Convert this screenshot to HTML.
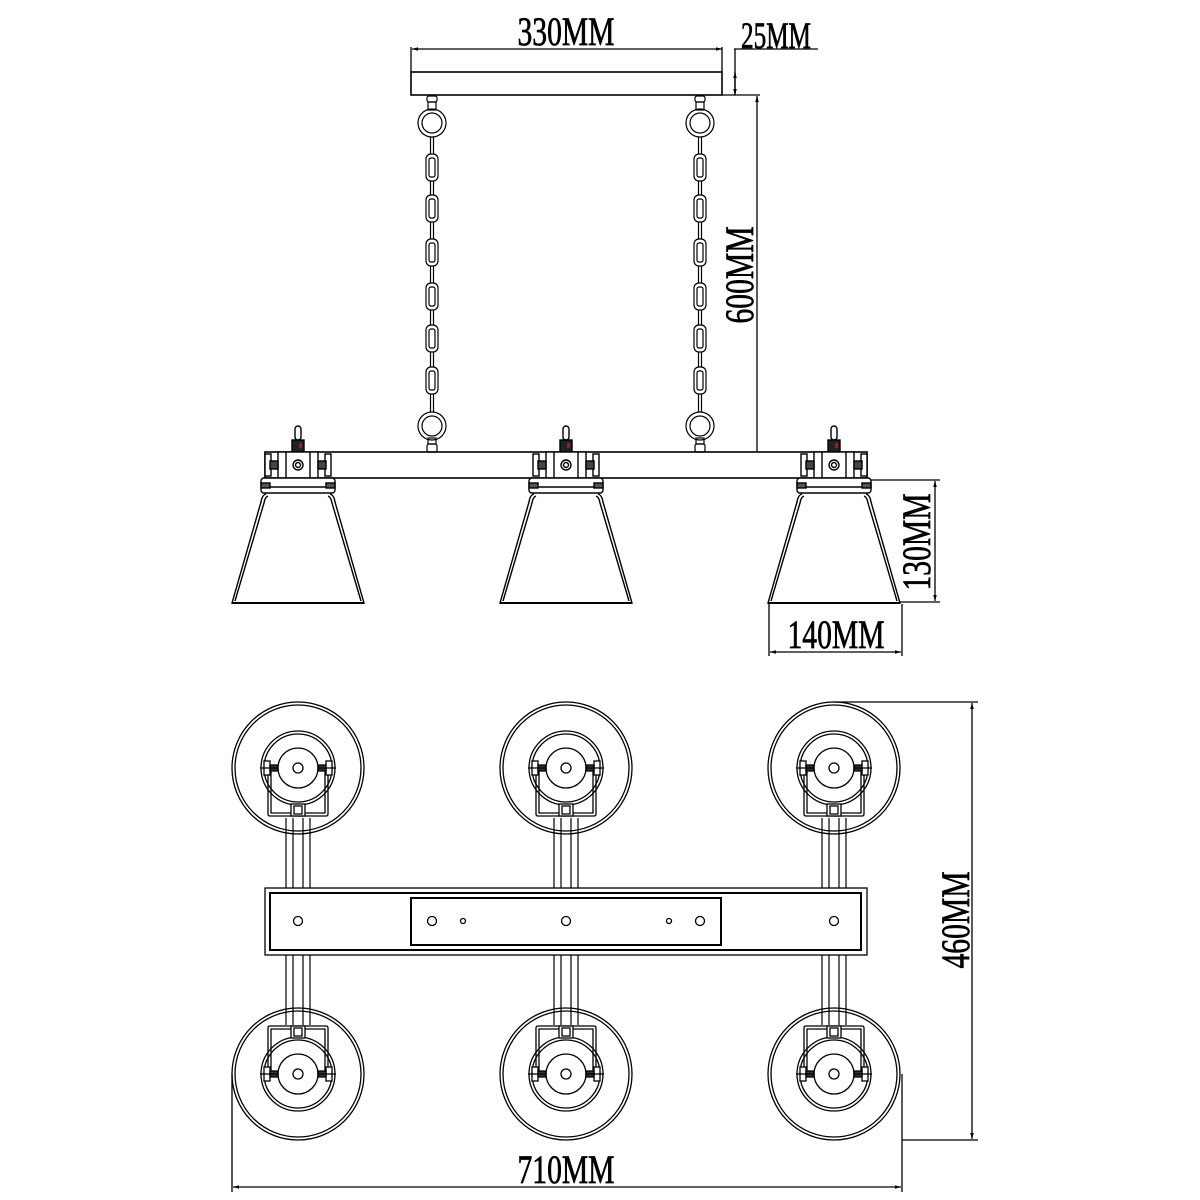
<!DOCTYPE html>
<html><head><meta charset="utf-8"><style>
html,body{margin:0;padding:0;background:#fff;}
svg{display:block;}
text{font-family:"Liberation Serif",serif;fill:#000;stroke:#000;stroke-width:0.7;}
</style></head><body>
<svg width="1200" height="1200" viewBox="0 0 1200 1200" xmlns="http://www.w3.org/2000/svg">
<defs>
<marker id="ar" viewBox="0 0 10 10" refX="10" refY="5" markerWidth="8" markerHeight="6" orient="auto-start-reverse" markerUnits="userSpaceOnUse"><path d="M0,2 L10,5 L0,8 Z" fill="#000"/></marker>
<g id="chain" fill="none" stroke="#000" stroke-width="1.2">
  <rect x="-5" y="96" width="10" height="6" rx="2"/>
  <rect x="-4" y="102" width="8" height="8"/>
  <circle cx="0" cy="123" r="14"/><circle cx="0" cy="123" r="10"/>
  <line x1="-1.5" y1="137" x2="-1.5" y2="414"/><line x1="1.5" y1="137" x2="1.5" y2="414"/>
  <g fill="#fff">
  <rect x="-6" y="154" width="12" height="27" rx="5"/><rect x="-3" y="158" width="6" height="19" rx="2"/>
  <rect x="-6" y="195" width="12" height="27" rx="5"/><rect x="-3" y="199" width="6" height="19" rx="2"/>
  <rect x="-6" y="239" width="12" height="27" rx="5"/><rect x="-3" y="243" width="6" height="19" rx="2"/>
  <rect x="-6" y="283" width="12" height="27" rx="5"/><rect x="-3" y="287" width="6" height="19" rx="2"/>
  <rect x="-6" y="325" width="12" height="27" rx="5"/><rect x="-3" y="329" width="6" height="19" rx="2"/>
  <rect x="-6" y="367" width="12" height="27" rx="5"/><rect x="-3" y="371" width="6" height="19" rx="2"/>
  </g>
  <circle cx="0" cy="426" r="14" fill="#fff"/><circle cx="0" cy="426" r="10"/>
  <rect x="-4" y="438" width="8" height="6"/>
  <rect x="-5" y="444" width="10" height="8" rx="2"/>
</g>
<g id="lamp" fill="none" stroke="#000" stroke-width="1.4">
  <rect x="-3" y="426" width="6" height="14" rx="3" fill="#fff"/>
  <rect x="-6" y="440" width="12" height="12" fill="#222"/>
  <rect x="1" y="443" width="3" height="5" fill="#d00" stroke="none"/>
  <rect x="-20" y="452" width="40" height="26" fill="#fff"/>
  <line x1="-12" y1="452" x2="-12" y2="478"/><line x1="12" y1="452" x2="12" y2="478"/>
  <rect x="-33" y="454" width="6" height="22" fill="#fff"/><rect x="27" y="454" width="6" height="22" fill="#fff"/>
  <rect x="-28" y="461" width="8" height="8" fill="#444"/><rect x="20" y="461" width="8" height="8" fill="#444"/>
  <circle cx="0" cy="465" r="5"/><circle cx="0" cy="465" r="2.5"/>
  <rect x="-37" y="478" width="74" height="15" rx="3" fill="#fff"/>
  <line x1="-36" y1="487" x2="36" y2="487"/>
  <rect x="-37" y="483" width="9" height="5" fill="#555"/><rect x="28" y="483" width="9" height="5" fill="#555"/>
  <path d="M-32,494 Q-36,495 -37,502 L-66,603 L66,603 L37,502 Q36,495 32,494"/>
  <path d="M-30,496 Q-33,497 -34,503 L-63,601 M30,496 Q33,497 34,503 L63,601"/>
  <line x1="-66" y1="603" x2="66" y2="603" stroke-width="2"/>
</g>
<g id="top" fill="none" stroke="#000" stroke-width="1.3">
  <circle r="66"/><circle r="63"/>
  <circle r="37"/><circle r="34"/>
  <circle r="20" fill="#fff"/><circle r="5"/>
  <path d="M-30,-4 L-30,46 Q-30,48 -28,48 L28,48 Q30,48 30,46 L30,-4"/>
  <path d="M-27,2 L-27,45 L27,45 L27,2"/>
  <rect x="-7" y="36" width="14" height="12" fill="#fff"/><rect x="-4" y="38" width="8" height="8"/>
  <rect x="-34" y="-7" width="6" height="14" fill="#fff"/><rect x="28" y="-7" width="6" height="14" fill="#fff"/>
  <rect x="-28" y="-3" width="8" height="6" fill="#333"/><rect x="20" y="-3" width="8" height="6" fill="#333"/>
  <line x1="-38" y1="0" x2="-20" y2="0"/><line x1="20" y1="0" x2="38" y2="0"/>
</g>
<g id="posts" stroke="#000" stroke-width="1.2">
  <line x1="-12" y1="0" x2="-12" y2="70"/><line x1="-5" y1="0" x2="-5" y2="70"/>
  <line x1="5" y1="0" x2="5" y2="70"/><line x1="12" y1="0" x2="12" y2="70"/>
</g>
</defs>

<g fill="none" stroke="#000" stroke-width="1.3">
  <line x1="412" y1="49" x2="722" y2="49" marker-start="url(#ar)" marker-end="url(#ar)"/>
  <line x1="411" y1="47" x2="411" y2="72"/><line x1="722" y1="47" x2="722" y2="72"/>
  <rect x="411" y="72" width="311" height="23" stroke-width="1.6"/>
  <line x1="734" y1="49" x2="818" y2="49"/>
  <line x1="735" y1="49" x2="735" y2="95"/>
  <line x1="735" y1="72" x2="735" y2="95" marker-start="url(#ar)" marker-end="url(#ar)"/>
  <line x1="722" y1="95" x2="760" y2="95"/>
  <line x1="757" y1="96" x2="757" y2="451" marker-start="url(#ar)"/>
  <rect x="265" y="452" width="602" height="26" stroke-width="1.6"/>
  <line x1="870" y1="480" x2="940" y2="480"/><line x1="900" y1="602" x2="940" y2="602"/>
  <line x1="935" y1="481" x2="935" y2="601" marker-start="url(#ar)" marker-end="url(#ar)"/>
  <line x1="769" y1="604" x2="769" y2="656"/><line x1="902" y1="604" x2="902" y2="656"/>
  <line x1="770" y1="652" x2="901" y2="652" marker-start="url(#ar)" marker-end="url(#ar)"/>
</g>
<use href="#chain" x="432"/><use href="#chain" x="700"/>
<use href="#lamp" x="298"/><use href="#lamp" x="566"/><use href="#lamp" x="834"/>

<text x="566" y="45" font-size="40" text-anchor="middle" transform="translate(566,0) scale(0.74,1) translate(-566,0)">330MM</text>
<text x="776" y="48" font-size="37" text-anchor="middle" transform="translate(776,0) scale(0.68,1) translate(-776,0)">25MM</text>
<text font-size="40" text-anchor="middle" transform="translate(753,275) rotate(-90) scale(0.74,1)">600MM</text>
<text font-size="40" text-anchor="middle" transform="translate(930,542) rotate(-90) scale(0.74,1)">130MM</text>
<text x="836" y="648" font-size="40" text-anchor="middle" transform="translate(836,0) scale(0.74,1) translate(-836,0)">140MM</text>

<use href="#posts" x="298" y="818"/><use href="#posts" x="566" y="818"/><use href="#posts" x="834" y="818"/>
<use href="#posts" x="298" y="955"/><use href="#posts" x="566" y="955"/><use href="#posts" x="834" y="955"/>
<g fill="none" stroke="#000">
  <rect x="265" y="888" width="602" height="67" stroke-width="1.3" fill="#fff"/>
  <rect x="270" y="893" width="591" height="57" stroke-width="2"/>
  <rect x="411" y="898" width="310" height="47" stroke-width="2"/>
  <g stroke-width="1.3">
    <circle cx="298" cy="921" r="4.5"/><circle cx="432" cy="921" r="4.5"/><circle cx="463" cy="921" r="2.5"/>
    <circle cx="566" cy="921" r="4.5"/><circle cx="669" cy="921" r="2.5"/><circle cx="700" cy="921" r="4.5"/>
    <circle cx="834" cy="921" r="4.5"/>
  </g>
</g>
<use href="#top" transform="translate(298,768)"/><use href="#top" transform="translate(566,768)"/><use href="#top" transform="translate(834,768)"/>
<use href="#top" transform="translate(298,1074) scale(1,-1)"/><use href="#top" transform="translate(566,1074) scale(1,-1)"/><use href="#top" transform="translate(834,1074) scale(1,-1)"/>

<g fill="none" stroke="#000" stroke-width="1.3">
  <line x1="834" y1="702" x2="978" y2="702"/><line x1="902" y1="1140" x2="978" y2="1140"/>
  <line x1="972" y1="703" x2="972" y2="1139" marker-start="url(#ar)" marker-end="url(#ar)"/>
  <line x1="232" y1="1074" x2="232" y2="1192"/><line x1="902" y1="1074" x2="902" y2="1192"/>
  <line x1="233" y1="1187" x2="901" y2="1187" marker-start="url(#ar)" marker-end="url(#ar)"/>
</g>
<text font-size="40" text-anchor="middle" transform="translate(969,920) rotate(-90) scale(0.74,1)">460MM</text>
<text x="566" y="1183" font-size="40" text-anchor="middle" transform="translate(566,0) scale(0.74,1) translate(-566,0)">710MM</text>
</svg>
</body></html>
